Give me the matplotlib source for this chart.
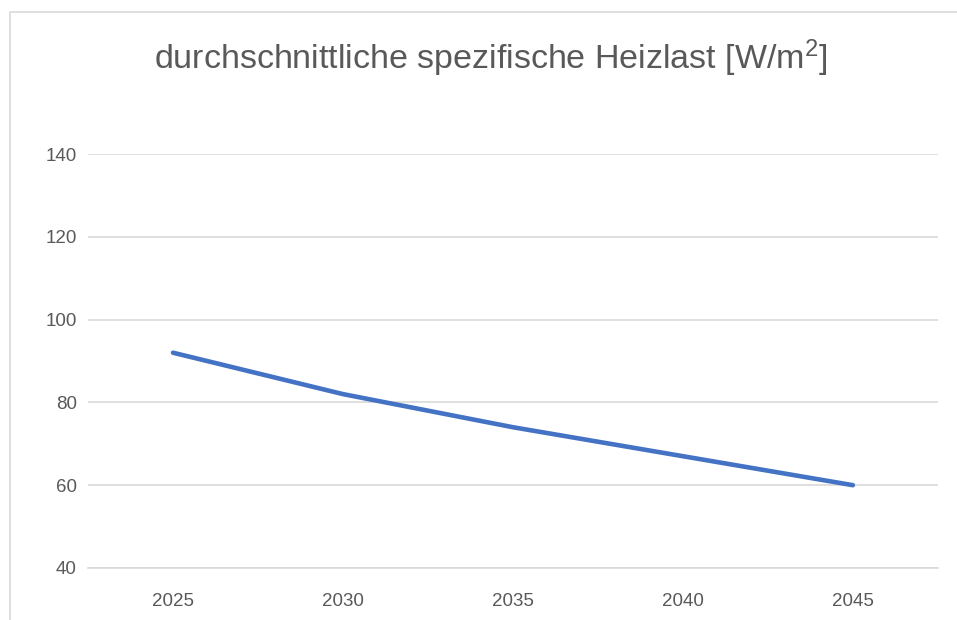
import matplotlib
matplotlib.use("Agg")
import matplotlib.pyplot as plt
from matplotlib.patches import Rectangle

years = ["2025", "2030", "2035", "2040", "2045"]
heizlast = [92, 82, 74, 67, 60]
y_ticks = [40, 60, 80, 100, 120, 140]

plt.rcParams["font.family"] = ["Liberation Sans", "DejaVu Sans"]
plt.rcParams["mathtext.fontset"] = "custom"
plt.rcParams["mathtext.rm"] = "Liberation Sans"
plt.rcParams["mathtext.it"] = "Liberation Sans"

grey_text = "#595959"
grid_col = "#d9d9d9"

fig = plt.figure(figsize=(9.57, 6.2), dpi=100)
ax = fig.add_axes([0.092, 0.0839, 0.888, 0.6677])

# chart frame (runs off the right and bottom edges)
fig.patches.append(Rectangle((10 / 957, -0.1), 1.2, (620 - 12) / 620 + 0.1,
                             transform=fig.transFigure, fill=False,
                             edgecolor=grid_col, linewidth=1.2))

x = range(len(years))
ax.plot(x, heizlast, color="#4472C4", linewidth=3.3, solid_capstyle="round",
        solid_joinstyle="round", zorder=3)

ax.set_xlim(-0.5, len(years) - 0.5)
ax.set_ylim(40, 140)
ax.set_yticks(y_ticks)
ax.set_xticks(list(x))
ax.set_xticklabels(years)
ax.grid(axis="y", color=grid_col, linewidth=1.2)
ax.set_axisbelow(True)
for s in ["top", "right", "left"]:
    ax.spines[s].set_visible(False)
ax.spines["bottom"].set_color(grid_col)
ax.spines["bottom"].set_linewidth(1.2)
ax.tick_params(axis="both", length=0, labelsize=13.5, colors=grey_text)
ax.tick_params(axis="y", pad=8)
ax.tick_params(axis="x", pad=18)

fig.text(0.5125, 0.906, r"durchschnittliche spezifische Heizlast [W/m$^{2}$]",
         ha="center", va="center", fontsize=24.5, color=grey_text)

fig.savefig("out.png", dpi=100, facecolor="white")
